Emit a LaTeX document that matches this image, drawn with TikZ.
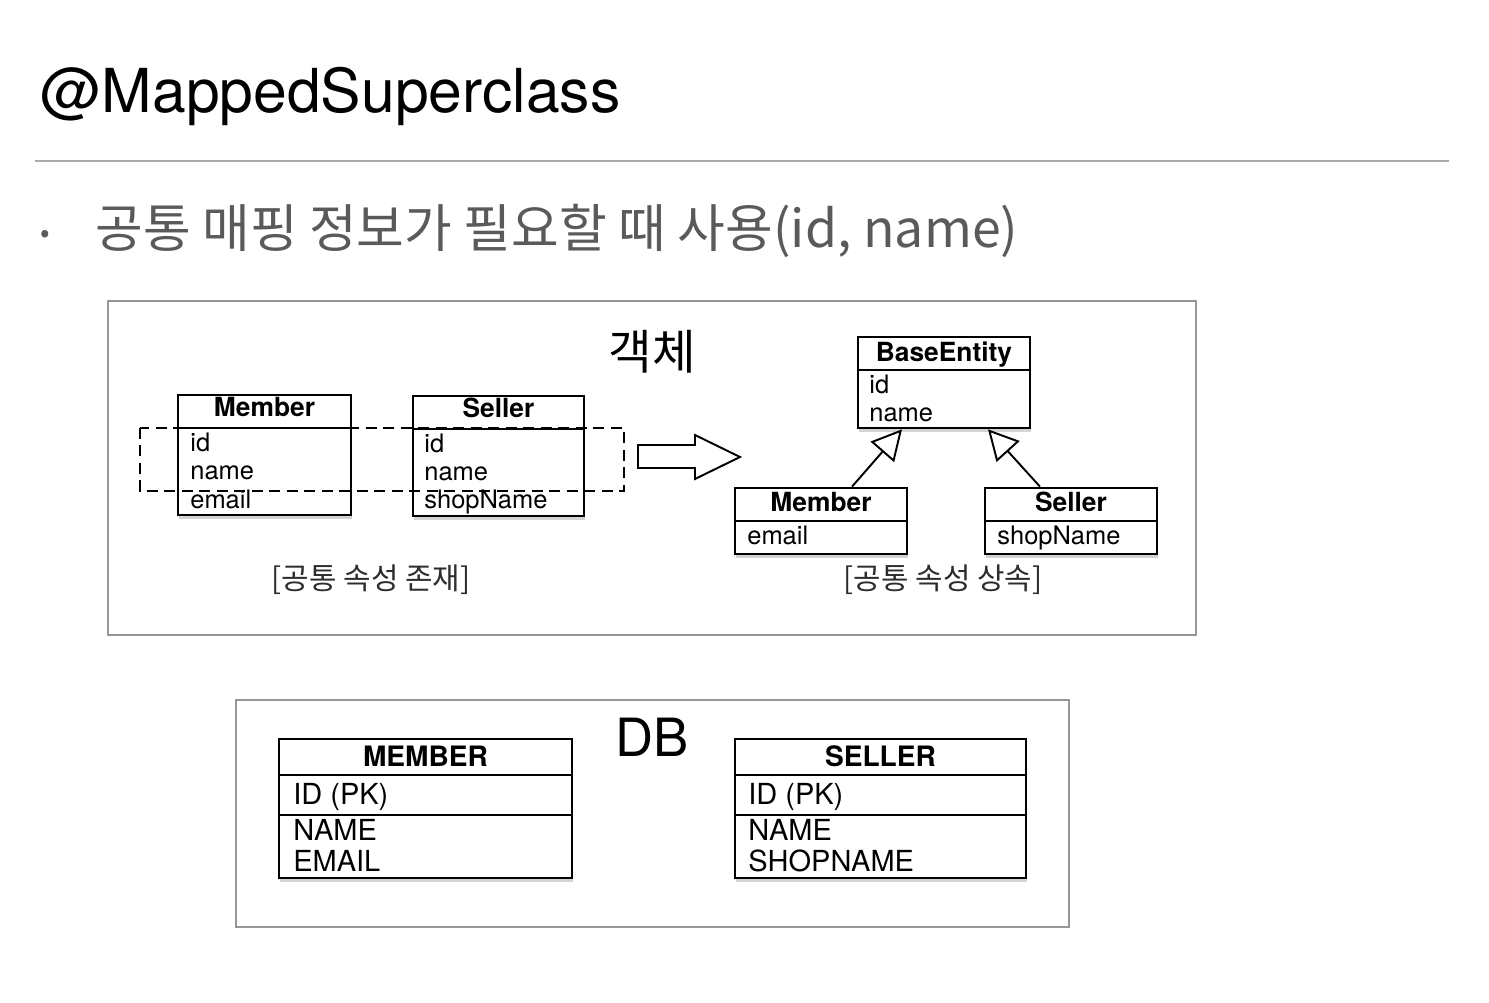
\documentclass[tikz,border=0pt]{standalone}
\usepackage{fontspec}
\setmainfont{TeX Gyre Heros}
\newfontfamily\krfont{Noto Sans CJK KR}
\usepackage{tikz}
\usetikzlibrary{arrows.meta,positioning,fit,shadows}
\definecolor{slidegray}{RGB}{90,90,90}
\definecolor{rulegray} {RGB}{170,170,170}
\definecolor{framegray}{RGB}{150,150,150}
\definecolor{capgray}  {RGB}{45,45,45}
\tikzset{
  cls/.style={draw=black,line width=1.5pt,fill=white,inner sep=0pt,
              drop shadow={shadow xshift=0.4pt,shadow yshift=-2pt,opacity=0.35}},
  clsline/.style={line width=1.5pt},
  clstitle/.style={anchor=base,inner sep=0pt,font=\fontsize{15}{17}\selectfont\bfseries},
  attr/.style={anchor=base west,inner sep=0pt,font=\fontsize{14.5}{16}\selectfont},
  tbltitle/.style={anchor=base,inner sep=0pt,font=\fontsize{16}{18}\selectfont\bfseries},
  column/.style={anchor=base west,inner sep=0pt,font=\fontsize{16.5}{18}\selectfont},
  frame/.style={draw=framegray,line width=0.9pt},
  caption/.style={inner sep=0pt,font=\krfont\fontsize{17}{19}\selectfont,text=capgray},
  inherit/.style={-{Triangle[open,length=0.6cm,width=0.62cm,line width=1.1pt]},line width=1.1pt},
  common/.style={dash pattern=on 0.22cm off 0.13cm,line width=1.1pt},
}

\begin{document}
\begin{tikzpicture}[x=0.02cm,y=-0.02cm]
  \useasboundingbox (0,0) rectangle (1489,1003);
  % heading and lead line
  \node[anchor=base west,inner sep=0pt,font=\fontsize{34.5}{40}\selectfont] (head) at (40,113) {@MappedSuperclass};
  \draw[rulegray,line width=1.2pt] (35,161) -- (1449,161);
  \node[inner sep=0pt,text=slidegray,font=\krfont\fontsize{16}{18}\selectfont] (dot) at (45,236) {•};
  \node[anchor=west,inner sep=0pt,text=slidegray,font=\krfont\fontsize{29.5}{33}\selectfont] (lead) at (95,231) {공통 매핑 정보가 필요할 때 사용(id, name)};

  % object frame
  \draw[frame] (108,301) rectangle (1196,635);
  \node[inner sep=0pt,font=\krfont\fontsize{27}{30}\selectfont] (objlabel) at (652,352) {객체};

  % class boxes
  \foreach \nm/\xa/\ya/\xb/\yb/\yh in {mem1/178/395/351/515/428, sel1/413/396/584/516/429,
      base/858/337/1030/428/370, mem2/735/488/907/554/521, sel2/985/488/1157/554/521}{
    \node[cls,fit={(\xa,\ya) (\xb,\yb)}] (\nm) {};
    \draw[clsline] (\xa,\yh) -- (\xb,\yh);
  }
  \foreach \nm/\x/\y/\txt in {m1t/264.5/417/Member, s1t/498.5/418/Seller,
      bt/944/362/BaseEntity, m2t/821/512/Member, s2t/1071/512/Seller}{
    \node[clstitle] (\nm) at (\x,\y) {\txt};
  }
  \foreach \nm/\x/\y/\txt in {m1a/190/451.7/id, m1b/190/480/name, m1c/190/508.3/email,
      s1a/424/452.5/id, s1b/424/481/name, s1c/424/509/shopName,
      ba/869/393.3/id, bb/869/421.7/name,
      m2a/747/545/email, s2a/997/545/shopName}{
    \node[attr] (\nm) at (\x,\y) {\txt};
  }

  % shared attributes
  \draw[common] (140,428) rectangle (624,491);
  \draw[line width=1.1pt,fill=white,line join=miter]
       (638,445) -- (695,445) -- (695,435) -- (740,457) -- (695,479) -- (695,468) -- (638,468) -- cycle;

  % inheritance
  \draw[inherit] ([xshift=0.62cm]mem2.north) -- ([xshift=-0.84cm]base.south);
  \draw[inherit] ([xshift=-0.62cm]sel2.north) -- ([xshift=0.88cm]base.south);

  \node[caption] (capleft)  at (371,580) {[공통 속성 존재]};
  \node[caption] (capright) at (943,580) {[공통 속성 상속]};

  % db frame
  \draw[frame] (236,700) rectangle (1069,927);
  \node[inner sep=0pt,font=\fontsize{30}{34}\selectfont] (dblabel) at (652,737) {DB};
  \foreach \nm/\xa/\xb in {tmem/279/572, tsel/735/1026}{
    \node[cls,fit={(\xa,739) (\xb,878)}] (\nm) {};
    \draw[clsline] (\xa,775) -- (\xb,775);
    \draw[clsline] (\xa,815) -- (\xb,815);
  }
  \node[tbltitle] (tmt) at (425.5,766.7) {MEMBER};
  \node[tbltitle] (tst) at (880.5,766.7) {SELLER};
  \foreach \nm/\x/\y/\txt in {tma/293/805/ID (PK), tmb/293/840/NAME, tmc/293/871.7/EMAIL,
      tsa/748/805/ID (PK), tsb/748/840/NAME, tsc/748/871.7/SHOPNAME}{
    \node[column] (\nm) at (\x,\y) {\txt};
  }
\end{tikzpicture}
\end{document}
